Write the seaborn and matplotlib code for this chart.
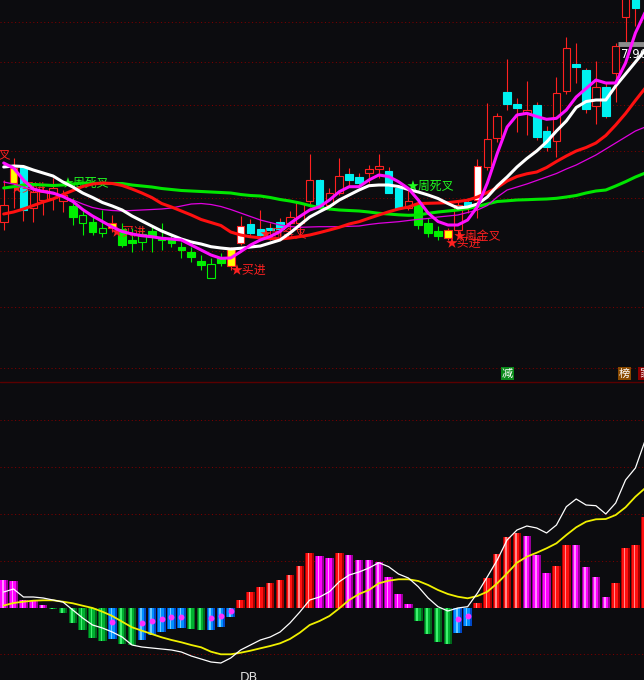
import numpy as np
import pandas as pd
import matplotlib
matplotlib.use("Agg")
import matplotlib.pyplot as plt
import seaborn as sns

# ---------------- data ----------------
# candles (index 0..64)
c_open = [6.18, 6.57, 6.73, 6.32, 6.40, 6.42, 6.39, 6.34, 6.17, 6.18,
          6.07, 6.17, 6.11, 6.00, 5.98, 6.09, 6.03, 6.01, 5.93, 5.88,
          5.79, 5.62, 5.82, 5.74, 5.97, 6.16, 6.11, 6.12, 6.18, 6.17,
          6.17, 6.39, 6.60, 6.35, 6.47, 6.66, 6.63, 6.67, 6.71, 6.69,
          6.52, 6.32, 6.36, 6.17, 6.09, 6.10, 6.10, 6.38, 6.40, 6.73,
          7.02, 7.48, 7.36, 7.27, 7.35, 7.09, 6.99, 7.49, 7.76, 7.70,
          7.34, 7.53, 7.67, 8.23, 8.55]
c_close = [6.35, 6.72, 6.30, 6.48, 6.50, 6.52, 6.45, 6.23, 6.25, 6.08,
           6.12, 6.12, 5.95, 5.97, 6.06, 6.03, 6.00, 5.97, 5.90, 5.83,
           5.75, 5.76, 5.77, 5.92, 6.14, 6.07, 6.05, 6.10, 6.11, 6.23,
           6.37, 6.60, 6.34, 6.47, 6.64, 6.60, 6.57, 6.71, 6.74, 6.47,
           6.32, 6.39, 6.15, 6.07, 6.04, 6.02, 6.35, 6.33, 6.74, 7.01,
           7.24, 7.36, 7.32, 7.30, 7.03, 6.93, 7.47, 7.92, 7.73, 7.31,
           7.53, 7.24, 7.94, 8.60, 8.32]
c_high = [6.60, 6.82, 6.74, 6.55, 6.54, 6.62, 6.50, 6.42, 6.30, 6.25,
          6.30, 6.25, 6.17, 6.12, 6.12, 6.15, 6.17, 6.05, 5.98, 5.93,
          5.85, 5.82, 5.87, 5.93, 6.24, 6.21, 6.30, 6.17, 6.22, 6.29,
          6.38, 6.86, 6.61, 6.52, 6.82, 6.72, 6.67, 6.75, 6.86, 6.73,
          6.54, 6.53, 6.41, 6.22, 6.14, 6.12, 6.40, 6.42, 6.81, 7.37,
          7.27, 7.81, 7.42, 7.59, 7.38, 7.14, 7.63, 8.03, 7.97, 7.72,
          7.79, 7.58, 7.97, 8.70, 8.60]
c_low = [6.10, 6.32, 6.19, 6.18, 6.25, 6.30, 6.28, 6.15, 6.05, 6.05,
         6.03, 6.08, 5.93, 5.88, 5.90, 5.88, 5.90, 5.93, 5.82, 5.78,
         5.70, 5.62, 5.74, 5.70, 5.95, 6.03, 6.02, 6.00, 6.04, 6.10,
         6.03, 6.33, 6.32, 6.30, 6.45, 6.55, 6.55, 6.57, 6.62, 6.47,
         6.32, 6.30, 6.11, 6.03, 6.00, 6.00, 6.05, 6.27, 6.22, 6.70,
         6.98, 7.30, 7.08, 7.05, 7.00, 6.89, 6.83, 7.46, 7.57, 7.27,
         7.16, 7.22, 7.38, 7.98, 8.14]
c_style = ['r', 'y', 'c', 'r', 'r', 'r', 'r', 'g', 'gh', 'g',
           'gh', 'y', 'g', 'g', 'gh', 'g', 'g', 'g', 'g', 'g',
           'g', 'gh', 'g', 'y', 'w', 'c', 'c', 'c', 'c', 'r',
           'r', 'r', 'c', 'r', 'r', 'c', 'c', 'r', 'r', 'c',
           'c', 'r', 'g', 'g', 'g', 'y', 'r', 'c', 'w', 'r',
           'r', 'c', 'c', 'r', 'c', 'c', 'r', 'r', 'c', 'c',
           'r', 'c', 'r', 'r', 'c']

# moving averages (index 0..65)
ma_white = [6.73, 6.74, 6.735, 6.70, 6.67, 6.64, 6.58, 6.53, 6.47, 6.425,
            6.375, 6.34, 6.30, 6.24, 6.19, 6.14, 6.09, 6.05, 6.01, 5.98,
            5.96, 5.933, 5.92, 5.91, 5.917, 5.93, 5.94, 5.97, 6.00, 6.07,
            6.15, 6.23, 6.283, 6.333, 6.40, 6.45, 6.50, 6.543, 6.55, 6.55,
            6.535, 6.505, 6.48, 6.45, 6.415, 6.365, 6.32, 6.33, 6.36, 6.43,
            6.54, 6.63, 6.73, 6.815, 6.89, 6.98, 7.09, 7.19, 7.325, 7.385,
            7.40, 7.40, 7.54, 7.66, 7.78, 7.90]
ma_magenta = [6.77, 6.72, 6.60, 6.51, 6.485, 6.47, 6.435, 6.385, 6.305, 6.24,
              6.185, 6.13, 6.085, 6.06, 6.043, 6.033, 6.017, 6.01, 6.00, 5.95,
              5.90, 5.85, 5.817, 5.82, 5.883, 5.95, 6.00, 6.035, 6.085, 6.165,
              6.235, 6.30, 6.333, 6.40, 6.483, 6.533, 6.533, 6.60, 6.65, 6.635,
              6.583, 6.515, 6.40, 6.27, 6.185, 6.15, 6.15, 6.20, 6.335, 6.57,
              6.865, 7.13, 7.25, 7.267, 7.235, 7.207, 7.217, 7.30, 7.43, 7.515,
              7.60, 7.57, 7.57, 7.77, 8.07, 8.28]
ma_red = [6.26, 6.28, 6.31, 6.345, 6.38, 6.41, 6.455, 6.495, 6.535, 6.56,
          6.57, 6.565, 6.545, 6.51, 6.47, 6.425, 6.365, 6.33, 6.29, 6.25,
          6.205, 6.175, 6.145, 6.08, 6.05, 6.032, 6.022, 6.015, 6.01, 6.02,
          6.034, 6.05, 6.074, 6.10, 6.127, 6.16, 6.183, 6.217, 6.25, 6.282,
          6.31, 6.33, 6.365, 6.367, 6.37, 6.373, 6.385, 6.398, 6.43, 6.475,
          6.525, 6.59, 6.635, 6.662, 6.68, 6.725, 6.785, 6.84, 6.89, 6.925,
          6.97, 7.045, 7.15, 7.265, 7.395, 7.52]
ma_green = [6.52, 6.533, 6.55, 6.555, 6.55, 6.545, 6.55, 6.56, 6.57, 6.567,
            6.565, 6.565, 6.565, 6.55, 6.54, 6.53, 6.515, 6.505, 6.495, 6.49,
            6.485, 6.48, 6.475, 6.47, 6.455, 6.445, 6.44, 6.425, 6.405, 6.39,
            6.37, 6.345, 6.323, 6.31, 6.30, 6.295, 6.29, 6.28, 6.267, 6.26,
            6.252, 6.247, 6.25, 6.267, 6.28, 6.29, 6.30, 6.315, 6.335, 6.36,
            6.385, 6.392, 6.40, 6.403, 6.407, 6.41, 6.417, 6.43, 6.445, 6.47,
            6.49, 6.50, 6.54, 6.583, 6.63, 6.67]
ma_thin = [6.58, 6.56, 6.53, 6.50, 6.48, 6.46, 6.44, 6.40, 6.36, 6.325,
           6.305, 6.295, 6.29, 6.295, 6.30, 6.305, 6.31, 6.32, 6.34, 6.36,
           6.365, 6.355, 6.335, 6.305, 6.27, 6.235, 6.20, 6.175, 6.15, 6.135,
           6.127, 6.13, 6.133, 6.133, 6.133, 6.137, 6.14, 6.155, 6.167, 6.175,
           6.183, 6.195, 6.207, 6.215, 6.23, 6.24, 6.25, 6.275, 6.30, 6.345,
           6.43, 6.50, 6.53, 6.56, 6.595, 6.63, 6.665, 6.71, 6.75, 6.80,
           6.85, 6.91, 6.97, 7.03, 7.09, 7.13]

# MACD panel (index 0..65)
macd_hist = [0.0275, 0.0265, 0.0075, 0.0065, 0.0025, -0.0012, -0.0055, -0.0155, -0.0225, -0.0305,
             -0.0335, -0.0315, -0.0365, -0.0375, -0.0325, -0.0275, -0.0245, -0.0215, -0.0205, -0.0215,
             -0.0228, -0.0225, -0.0195, -0.0095, 0.0075, 0.0155, 0.0205, 0.0245, 0.0275, 0.0325,
             0.0415, 0.0545, 0.0515, 0.0495, 0.0545, 0.0525, 0.0475, 0.0475, 0.0455, 0.0305,
             0.0135, 0.0035, -0.0135, -0.0265, -0.0345, -0.0365, -0.0255, -0.0185, 0.0045, 0.0295,
             0.0535, 0.0705, 0.0745, 0.0715, 0.0525, 0.0345, 0.0415, 0.0625, 0.0625, 0.0405,
             0.0305, 0.0105, 0.0245, 0.0595, 0.0625, 0.0905]
hist_state = list("mmmmm" + "gggggg" + "b" + "gg" + "bbbbb" + "gg" + "bbb" + "rrrrrrrr"
                  + "mm" + "r" + "mmmmmmm" + "gggg" + "bb" + "rrrrr" + "mmm" + "rr"
                  + "mmmm" + "rrrr")
macd_dif = [0.0155, 0.0185, 0.0105, 0.0105, 0.0095, 0.0075, 0.0055, -0.0025, -0.0105, -0.0175,
            -0.0205, -0.0245, -0.0295, -0.0375, -0.0395, -0.0405, -0.0415, -0.0425, -0.0445, -0.0485,
            -0.0515, -0.0545, -0.0555, -0.0505, -0.0425, -0.0375, -0.0325, -0.0295, -0.0245, -0.0155,
            -0.0045, 0.0075, 0.0105, 0.0158, 0.0258, 0.0325, 0.0355, 0.0395, 0.0448, 0.0408,
            0.0335, 0.0295, 0.0208, 0.0095, 0.0008, -0.0035, -0.0005, 0.0008, 0.0145, 0.0308,
            0.0475, 0.0675, 0.0775, 0.0815, 0.0795, 0.0745, 0.0825, 0.1008, 0.1085, 0.1025,
            0.1018, 0.0935, 0.1045, 0.1275, 0.1395, 0.1675]
macd_dea = [0.0020, 0.0045, 0.0058, 0.0068, 0.0072, 0.0072, 0.0058, 0.0042, 0.0018, -0.0005,
            -0.0042, -0.0085, -0.0142, -0.0198, -0.0232, -0.0265, -0.0298, -0.0325, -0.0348, -0.0375,
            -0.0398, -0.0442, -0.0468, -0.0468, -0.0452, -0.0432, -0.0408, -0.0385, -0.0358, -0.0315,
            -0.0252, -0.0175, -0.0135, -0.0085, -0.0008, 0.0075, 0.0135, 0.0175, 0.0242, 0.0268,
            0.0282, 0.0282, 0.0265, 0.0225, 0.0175, 0.0135, 0.0108, 0.0092, 0.0115, 0.0158,
            0.0242, 0.0342, 0.0448, 0.0508, 0.0548, 0.0592, 0.0642, 0.0725, 0.0802, 0.0858,
            0.0882, 0.0885, 0.0925, 0.1002, 0.1108, 0.1195]
dot_idx = [11, 14, 15, 16, 17, 18, 21, 22, 23, 46, 47]
dot_val = [-0.0142, -0.0152, -0.0132, -0.0115, -0.0092, -0.0092, -0.0102, -0.0085, -0.0032, -0.0115, -0.0082]

# signal labels
sig_text = ['★周金叉', '★买进', '★周死叉', '★买进', '★买进', '★周金叉', '★周死叉', '★周金叉', '★买进']
sig_x = [0.74, 0.74, 5.9, 10.87, 23.03, 25.87, 40.86, 45.62, 44.81]
sig_y = [6.85, 6.52, 6.57, 6.08, 5.70, 6.06, 6.54, 6.04, 5.97]
sig_col = ['#ff2020', '#ff2020', '#20ff20', '#ff2020', '#ff2020', '#ff2020', '#20ff20', '#ff2020', '#ff2020']
sig_ha = ['right', 'left', 'left', 'left', 'left', 'left', 'left', 'left', 'left']

price_grid = [8.18, 7.78, 7.35, 6.893, 6.42, 5.89, 5.33, 4.72]
macd_grid = [0.1875, 0.1405, 0.094, 0.047, -0.046]
high_label = '7.96'
tag_text = ['减', '榜', '家']
tag_x = [51.04, 62.9, 64.95]
tag_bg = ['#0a8a1a', '#8a4a00', '#8b0000']

# ---------------- drawing ----------------
sns.set_theme(style="dark")
plt.rcParams['font.family'] = ['Noto Sans CJK SC', 'DejaVu Sans']
plt.rcParams['axes.unicode_minus'] = False

BG = '#0c0c0f'
fig = plt.figure(figsize=(6.44, 6.80), dpi=100, facecolor=BG)
h_top = 381 / 680
ax = fig.add_axes([0, 1 - h_top, 1, h_top])
ax2 = fig.add_axes([0, 0, 1, 1 - h_top])

idx = list(range(len(ma_white)))
XL = (-0.375, 64.87)

# gridlines
for g in price_grid:
    ax.axhline(g, color='#7a0000', lw=0.75, ls=(0, (1, 2.5)), zorder=1)
for g in macd_grid:
    ax2.axhline(g, color='#7a0000', lw=0.75, ls=(0, (1, 2.5)), zorder=1)

# candles
RED = '#ff2020'
CANDLE = {
    'r': (RED, BG, RED),
    'c': ('#00f0f0', '#00f0f0', RED),
    'g': ('#00f000', '#00f000', '#00f000'),
    'gh': ('#00f000', BG, '#00f000'),
    'y': (RED, '#ffff00', RED),
    'w': (RED, '#ffffff', RED),
}
for i in range(len(c_open)):
    o, h, l, c, s = c_open[i], c_high[i], c_low[i], c_close[i], c_style[i]
    top, bot = max(o, c), min(o, c)
    edge, face, wick = CANDLE[s]
    ax.vlines(i, top, h, color=wick, lw=0.8, zorder=2)
    ax.vlines(i, l, bot, color=wick, lw=0.8, zorder=2)
    ax.bar(i, max(top - bot, 0.01), bottom=bot, width=0.77, facecolor=face,
           edgecolor=edge, linewidth=0.8, zorder=2.2)

# labels under the lines
for t, x, y, col, ha in zip(sig_text, sig_x, sig_y, sig_col, sig_ha):
    ax.text(x, y, t, color=col, fontsize=8.6, ha=ha, va='center', zorder=2.4,
            family=['Noto Sans CJK SC', 'DejaVu Sans'])

ax.hlines(7.965, 62.24, 65.5, color='#8c8c8c', lw=3.5, zorder=2.5)
ax.text(62.55, 7.86, high_label, color='white', fontsize=8.5, ha='left', va='center',
        family='DejaVu Sans', zorder=2.5)

# moving averages
sns.lineplot(x=idx, y=ma_green, ax=ax, color='#00e600', linewidth=2.2, zorder=3)
sns.lineplot(x=idx, y=ma_thin, ax=ax, color='#e000e0', linewidth=0.9, zorder=3)
sns.lineplot(x=idx, y=ma_red, ax=ax, color='#ff1010', linewidth=2.2, zorder=3.1)
sns.lineplot(x=idx, y=ma_white, ax=ax, color='#ffffff', linewidth=2.2, zorder=3.2)
sns.lineplot(x=idx, y=ma_magenta, ax=ax, color='#ff10ff', linewidth=2.2, zorder=3.3)

for t, x, bg in zip(tag_text, tag_x, tag_bg):
    ax.text(x, 4.665, t, color='white', fontsize=8, ha='center', va='center', zorder=6,
            bbox=dict(boxstyle='square,pad=0.12', fc=bg, ec='none'))

# MACD histogram with cylinder shading
dfm = pd.DataFrame({'i': idx, 'v': macd_hist, 's': hist_state})
pal_edge = {'r': '#a80000', 'm': '#9a009a', 'g': '#006a1c', 'b': '#0048c8'}
pal_mid = {'r': '#ff1010', 'm': '#ff00ff', 'g': '#00b030', 'b': '#0090ff'}
pal_hi = {'r': '#ff8a8a', 'm': '#ff8cff', 'g': '#40f070', 'b': '#70c8ff'}
sns.barplot(data=dfm, x='i', y='v', hue='s', palette=pal_edge, dodge=False,
            native_scale=True, width=0.86, saturation=1, legend=False,
            errorbar=None, linewidth=0, ax=ax2, zorder=2)
xi = np.array(idx, dtype=float)
ax2.bar(xi - 0.05, macd_hist, width=0.56, color=[pal_mid[s] for s in hist_state],
        linewidth=0, zorder=2.1)
ax2.bar(xi - 0.1, macd_hist, width=0.16, color=[pal_hi[s] for s in hist_state],
        linewidth=0, zorder=2.2)

sns.lineplot(x=idx, y=macd_dea, ax=ax2, color='#f0f000', linewidth=1.3, zorder=4)
sns.lineplot(x=idx, y=macd_dif, ax=ax2, color='#ffffff', linewidth=0.9, zorder=4.1)
sns.scatterplot(x=dot_idx, y=dot_val, ax=ax2, color='#ff30ff', s=18, linewidth=0, zorder=5)

ax2.axhline(0.2258, color='#5a0000', lw=1.0, zorder=6)
ax2.text(23.94, -0.0635, 'DB', color='#e0e0e0', fontsize=9, ha='left', va='top',
         family='DejaVu Sans', zorder=6)

for a in (ax, ax2):
    a.set_facecolor(BG)
    for sp in a.spines.values():
        sp.set_visible(False)
    a.set_xticks([])
    a.set_yticks([])
    a.set_xlabel('')
    a.set_ylabel('')
    a.grid(False)
    a.set_xlim(*XL)
ax.set_ylim(4.59, 8.40)
ax2.set_ylim(-0.0725, 0.2265)

fig.savefig('out.png', dpi=100, facecolor=BG)
